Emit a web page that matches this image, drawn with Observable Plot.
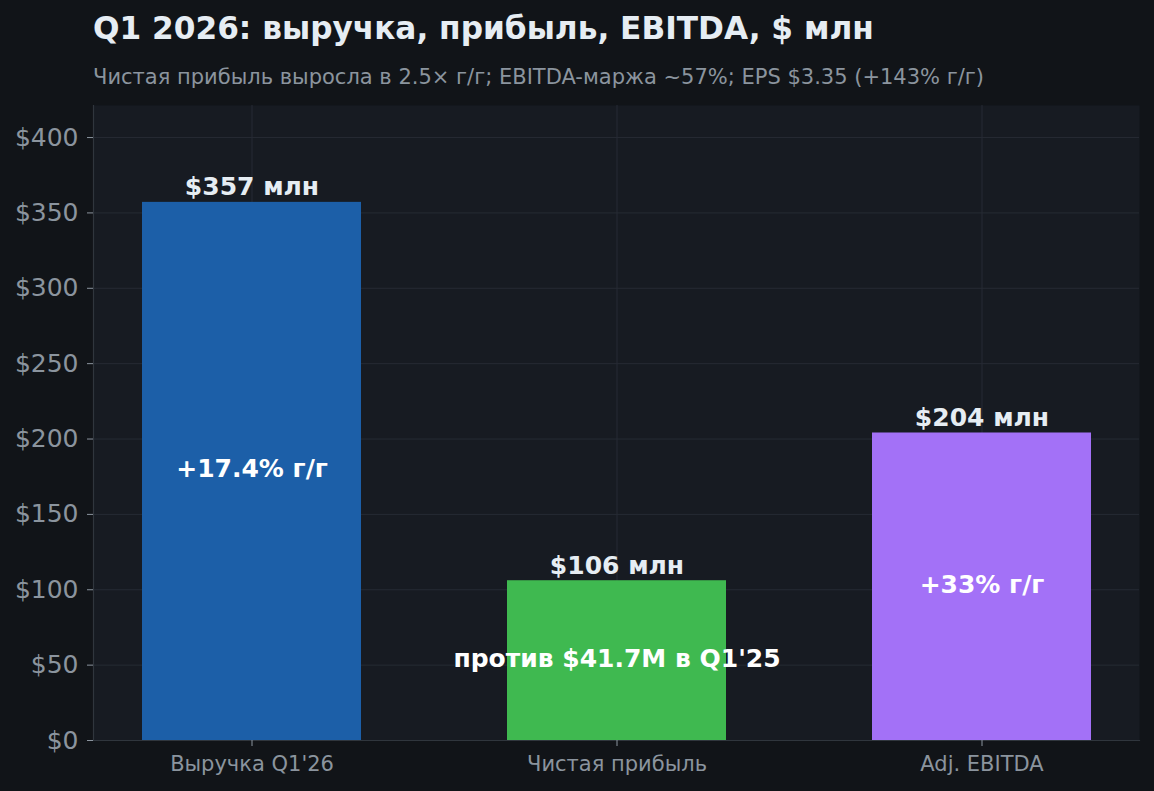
<!DOCTYPE html>
<html>
<head>
<meta charset="utf-8">
<script src="https://cdn.jsdelivr.net/npm/d3@7"></script>
<script src="https://cdn.jsdelivr.net/npm/@observablehq/plot@0.6"></script>
<style>
  html, body { margin: 0; padding: 0; background: #111418; }
  #wrap { position: relative; width: 1154px; height: 791px; background: #111418; font-family: "DejaVu Sans", sans-serif; }
  #title { position: absolute; left: 93px; top: 13px; font-size: 31.2px; line-height: 1; font-weight: bold; color: #e6edf3; white-space: nowrap; }
  #subtitle { position: absolute; left: 93px; top: 67px; font-size: 21px; line-height: 1; color: #8b949e; white-space: nowrap; }
  #chart { position: absolute; left: 0; top: 0; }
</style>
</head>
<body>
<div id="wrap">
  <div id="chart"></div>
  <div id="title">Q1 2026: выручка, прибыль, EBITDA, $ млн</div>
  <div id="subtitle">Чистая прибыль выросла в 2.5× г/г; EBITDA-маржа ~57%; EPS $3.35 (+143% г/г)</div>
</div>
<script>
const categories = ["Выручка Q1'26", "Чистая прибыль", "Adj. EBITDA"];
const values = [357, 106, 204];
const topLabels = ["$357 млн", "$106 млн", "$204 млн"];
const innerLabels = ["+17.4% г/г", "против $41.7M в Q1'25", "+33% г/г"];
const colors = ["#1c5fa8", "#3fb950", "#a371f7"];
const yTicks = [0, 50, 100, 150, 200, 250, 300, 350, 400];

const data = categories.map((c, i) => ({
  category: c, value: values[i], top: topLabels[i], inner: innerLabels[i], color: colors[i]
}));

const chart = Plot.plot({
  width: 1154,
  height: 791,
  marginTop: 105,
  marginBottom: 51,
  marginLeft: 93,
  marginRight: 15,
  style: { background: "transparent", fontFamily: "DejaVu Sans, sans-serif", color: "#8b949e", overflow: "visible" },
  x: { domain: categories, paddingInner: 0.4, paddingOuter: 0.131 },
  y: { domain: [0, d3.max(values) * 1.18] },
  marks: [
    Plot.frame({ fill: "#171b22", stroke: null }),
    Plot.gridY(yTicks, { stroke: "#262b34", strokeOpacity: 1, strokeWidth: 1 }),
    Plot.gridX(categories, { stroke: "#262b34", strokeOpacity: 1, strokeWidth: 1 }),
    Plot.barY(data, { x: "category", y: "value", fill: "color" }),
    Plot.frame({ anchor: "left", stroke: "#30363d", strokeWidth: 1.2 }),
    Plot.frame({ anchor: "bottom", stroke: "#30363d", strokeWidth: 1.2 }),
    Plot.axisY(yTicks, { tickFormat: d => "$" + d, fontSize: 25, color: "#8b949e", stroke: "#8b949e", tickSize: 6, tickPadding: 9, label: null }),
    Plot.axisX({ fontSize: 21, color: "#8b949e", stroke: "#8b949e", tickSize: 6, tickPadding: 10, label: null }),
    Plot.text(data, { x: "category", y: "value", text: "top", fill: "#e6edf3", fontSize: 25, fontWeight: "bold", lineAnchor: "bottom", dy: -7 }),
    Plot.text(data, { x: "category", y: d => d.value / 2, text: "inner", fill: "#ffffff", fontSize: 25, fontWeight: "bold", lineAnchor: "middle", dy: -2 })
  ]
});
document.getElementById("chart").appendChild(chart);
</script>
</body>
</html>
